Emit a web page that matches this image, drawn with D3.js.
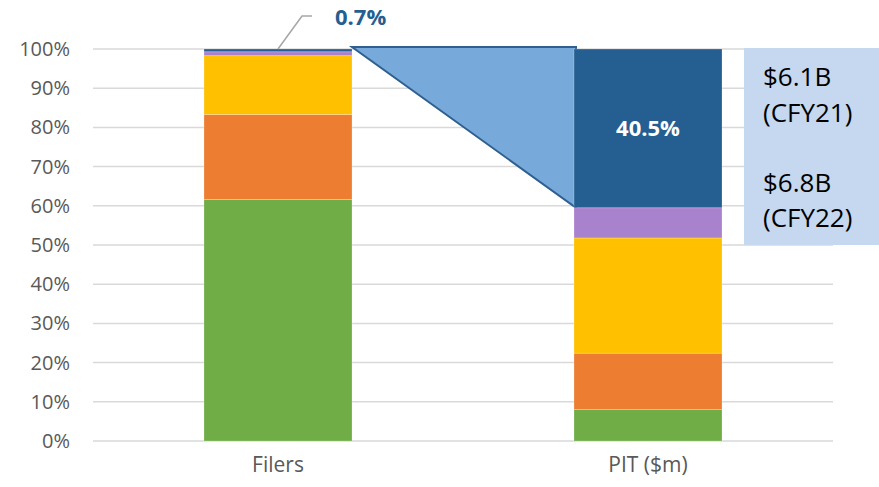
<!DOCTYPE html>
<html>
<head>
<meta charset="utf-8">
<script src="https://cdn.jsdelivr.net/npm/d3@7"></script>
<style>
  body { margin: 0; background: #fff; }
  text { font-family: "Open Sans", sans-serif; }
</style>
</head>
<body>
<div class="container"></div>
<script>
const WIDTH = 879;
const HEIGHT = 487;

// data (share of total, %)
var categories = ["Filers", "PIT ($m)"];
var seriesNames = ["s1", "s2", "s3", "s4", "s5"];
var seriesColors = ["#70ad47", "#ed7d31", "#ffc000", "#a982ce", "#255e91"];
var filersValues = [61.6, 21.7, 15.0, 1.0, 0.7];
var pitValues = [8.0, 14.4, 29.4, 7.7, 40.5];
var yTicks = [0, 10, 20, 30, 40, 50, 60, 70, 80, 90, 100];
var boxLines = ["$6.1B", "(CFY21)", "$6.8B", "(CFY22)"];

var rows = categories.map(function (c, i) {
  var vals = i === 0 ? filersValues : pitValues;
  var r = { cat: c };
  seriesNames.forEach(function (s, j) { r[s] = vals[j]; });
  return r;
});

var svg = d3.select('.container').append('svg')
  .attr('width', WIDTH)
  .attr('height', HEIGHT);

var xScale = d3.scaleBand()
  .domain(categories)
  .range([93, 833])
  .paddingInner(0.6)
  .paddingOuter(0.3);

var yScale = d3.scaleLinear()
  .domain([0, 100])
  .range([441, 49]);

// gridlines
svg.append('g').selectAll('line')
  .data(yTicks)
  .enter().append('line')
  .attr('x1', 93).attr('x2', 833)
  .attr('y1', function (d) { return yScale(d); })
  .attr('y2', function (d) { return yScale(d); })
  .attr('stroke', '#d9d9d9')
  .attr('stroke-width', 1.5);

// y axis labels
var yAxis = d3.axisLeft(yScale)
  .tickValues(yTicks)
  .tickFormat(function (d) { return d + '%'; })
  .tickSize(0)
  .tickPadding(0);

var yg = svg.append('g')
  .attr('transform', 'translate(70,0)')
  .call(yAxis);
yg.select('.domain').remove();
yg.selectAll('text')
  .attr('font-size', 20)
  .attr('font-family', '"Open Sans", sans-serif')
  .attr('fill', '#595959');

// x axis labels
var xAxis = d3.axisBottom(xScale).tickSize(0).tickPadding(0);
var xg = svg.append('g')
  .attr('transform', 'translate(0,457)')
  .call(xAxis);
xg.select('.domain').remove();
xg.selectAll('text')
  .attr('font-size', 21)
  .attr('font-family', '"Open Sans", sans-serif')
  .attr('fill', '#595959');

// callout triangle joining the two bars
var lastIdx = seriesNames.length - 1;
var xL = xScale(categories[0]) + xScale.bandwidth();
var xR = xScale(categories[1]);
var yTop = yScale(100) - 2;
var yBot = yScale(100 - pitValues[lastIdx]);
svg.append('path')
  .attr('d', 'M' + xL + ',' + yTop + 'L' + (xR + 2) + ',' + yTop + 'L' + (xR + 2) + ',' + yBot + 'Z')
  .attr('fill', '#77aadb')
  .attr('stroke', '#2e5f8f')
  .attr('stroke-width', 2)
  .attr('stroke-linejoin', 'miter');

// stacked bars
var stacked = d3.stack().keys(seriesNames)(rows);

svg.append('g').selectAll('g')
  .data(stacked)
  .enter().append('g')
  .attr('fill', function (d, i) { return seriesColors[i]; })
  .selectAll('rect')
  .data(function (d) { return d; })
  .enter().append('rect')
  .attr('x', function (d) { return xScale(d.data.cat); })
  .attr('width', xScale.bandwidth())
  .attr('y', function (d) { return yScale(d[1]); })
  .attr('height', function (d) { return yScale(d[0]) - yScale(d[1]); })
  .attr('stroke', 'rgba(255,255,255,0.3)')
  .attr('stroke-width', 0.75);

// label inside the top PIT segment
var topSeg = stacked[lastIdx][1];
svg.append('text')
  .attr('x', xScale(categories[1]) + xScale.bandwidth() / 2)
  .attr('y', (yScale(topSeg[0]) + yScale(topSeg[1])) / 2)
  .attr('dy', '0.35em')
  .attr('text-anchor', 'middle')
  .attr('font-size', 22)
  .attr('font-weight', 'bold')
  .attr('fill', '#fff')
  .text(pitValues[lastIdx].toFixed(1) + '%');

// leader line + label for the small Filers segment
var fx = xScale(categories[0]) + 74;
svg.append('polyline')
  .attr('points', [[fx, yScale(100)], [fx + 24, 16], [fx + 34, 16]].join(' '))
  .attr('fill', 'none')
  .attr('stroke', '#a6a6a6')
  .attr('stroke-width', 1.5);

svg.append('text')
  .attr('x', 335)
  .attr('y', 17)
  .attr('dy', '0.35em')
  .attr('font-size', 22)
  .attr('font-weight', 'bold')
  .attr('fill', '#255e91')
  .text(filersValues[lastIdx].toFixed(1) + '%');

// text box on the right
svg.append('rect')
  .attr('x', 744)
  .attr('y', yScale(100) - 1)
  .attr('width', WIDTH - 744)
  .attr('height', yScale(50) - yScale(100) + 1)
  .attr('fill', '#c5d8ef');

var lineY = [77, 113, 183, 218];
svg.append('g').selectAll('text')
  .data(boxLines)
  .enter().append('text')
  .attr('x', 763)
  .attr('y', function (d, i) { return lineY[i]; })
  .attr('dy', '0.35em')
  .attr('font-size', 26)
  .attr('fill', '#000')
  .text(function (d) { return d; });
</script>
</body>
</html>
